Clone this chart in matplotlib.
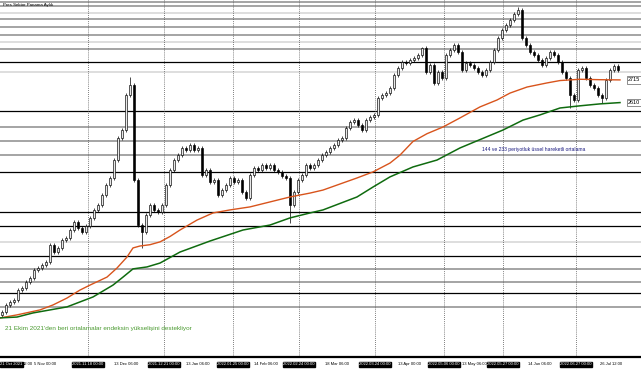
import matplotlib
matplotlib.use('Agg')
from matplotlib import pyplot as plt
from matplotlib import transforms

plt.rcParams['font.family'] = ['Liberation Sans', 'DejaVu Sans']

# closing prices, one candle per bar (open = previous close)
closes = [1640, 1673, 1687, 1696, 1742, 1752, 1779, 1798, 1835, 1844,
          1858, 1872, 1951, 1918, 1937, 1974, 1983, 2020, 2057, 2029,
          2011, 2039, 2076, 2113, 2136, 2182, 2228, 2261, 2344, 2446,
          2483, 2645, 2691, 2252, 2043, 2011, 2090, 2136, 2113, 2103,
          2136, 2228, 2298, 2344, 2367, 2400, 2390, 2414, 2390, 2400,
          2275, 2298, 2242, 2252, 2182, 2205, 2228, 2261, 2242, 2252,
          2196, 2168, 2275, 2307, 2298, 2321, 2307, 2321, 2298, 2289,
          2270, 2261, 2136, 2196, 2252, 2275, 2321, 2307, 2321, 2344,
          2367, 2381, 2400, 2414, 2437, 2446, 2492, 2520, 2529, 2506,
          2483, 2529, 2543, 2553, 2631, 2645, 2654, 2678, 2738, 2770,
          2798, 2793, 2807, 2816, 2830, 2863, 2752, 2784, 2701, 2752,
          2724, 2830, 2853, 2877, 2844, 2761, 2793, 2784, 2770, 2752,
          2738, 2761, 2798, 2853, 2909, 2946, 2969, 2992, 3020, 3039,
          2909, 2877, 2844, 2830, 2807, 2784, 2816, 2844, 2830, 2798,
          2752, 2724, 2645, 2622, 2761, 2770, 2724, 2691, 2678, 2645,
          2631, 2715, 2761, 2779, 2761]
first_open = 1625

# long wicks that stick out (bar index -> price)
spike_high = {32: 2729, 105: 2868, 129: 3052}
spike_low = {0: 1615, 35: 1937, 72: 2051, 142: 2585, 150: 2608}

# 144 and 233 period EMAs (bar index, value)
ema144_x = [-0.5, 3.75, 9.5, 12.75, 16.25, 19.5, 22, 26.25, 28.75, 31.25, 32.75, 34.5,
            37, 39.5, 42, 44.5, 48.75, 52.75, 57, 62, 67, 72, 77, 80.25, 88.75, 92.75, 97,
            99.5, 102.75, 106.25, 110.25, 114.5, 119.5, 123.75, 127, 131.25, 136.25,
            139.5, 144.5, 149.5, 154.5]
ema144_y = [1613, 1627, 1650, 1673, 1705, 1742, 1765, 1802, 1844, 1895, 1937, 1946,
            1952, 1965, 1990, 2020, 2066, 2099, 2113, 2127, 2150, 2173, 2191, 2205, 2261, 2289, 2330,
            2367, 2430, 2466, 2497, 2539, 2590, 2622, 2654, 2682, 2701,
            2712, 2718, 2716, 2715]
ema233_x = [-0.5, 3.75, 7.75, 16.25, 22.75, 27.75, 30.25, 32.75, 36.25, 39.5, 44.5,
            52, 60.25, 67, 72, 77, 80.25, 88.75, 92.75, 97, 102.75, 108.75, 114.5,
            125.25, 130.25, 134.5, 139.5, 144.5, 149.5, 154.5]
ema233_y = [1613, 1617, 1636, 1664, 1710, 1765, 1802, 1840, 1849, 1867, 1918,
            1969, 2020, 2043, 2076, 2099, 2113, 2173, 2219, 2266, 2312, 2344, 2400,
            2483, 2529, 2553, 2585, 2595, 2604, 2610]

# horizontal support / resistance lines
levels_black = [2800, 2573, 2287, 2104, 2037, 1898, 1729]
levels_gray = [3077, 3058, 2996, 2960, 2923, 2859, 2497, 2434, 2368, 1840, 1780, 1664]
levels_light = [3027, 2892, 2753, 1965]

# dotted vertical lines (bar index) and their time labels
vline_x = [21.5, 40.5, 57.75, 74.25, 93.25, 110.5, 125.25, 143.5]
vline_text = ['2021.11.18 00:00', '2021.12.21 00:00', '2022.01.25 00:00', '2022.02.24 00:00',
              '2022.03.24 00:00', '2022.05.06 00:00', '2022.05.27 00:00', '2022.06.27 00:00']

tick_x = [6.4, 10.8, 31, 49, 66, 83.75, 102, 118, 134.5, 152.3]
tick_text = ['12:00', '5 Nov 00:00', '13 Dec 06:00', '13 Jan 06:00', '14 Feb 06:00',
             '18 Mar 06:00', '13 Apr 00:00', '13 May 06:00', '14 Jun 06:00', '26 Jul 12:00']


fig = plt.figure(figsize=(6.41, 3.8), dpi=100)
ax = fig.add_axes([0, 23 / 380, 1, 357 / 380])
ax.set_xlim(-0.5, 159.75)
ax.set_ylim(1432, 3085)

for lv in levels_light:
    ax.axhline(lv, color='#d4d4d4', lw=1.1, zorder=1)
for lv in levels_gray:
    ax.axhline(lv, color='#8c8c8c', lw=1.1, zorder=1)
for lv in levels_black:
    ax.axhline(lv, color='black', lw=0.9, zorder=1)

for vx in vline_x:
    ax.axvline(vx, color='#555555', lw=0.6, ls=(0, (1, 1.5)), zorder=1)

# candles
wick = 9
prev = first_open
for i, c in enumerate(closes):
    o = prev
    hi = spike_high.get(i, max(o, c) + wick)
    lo = spike_low.get(i, min(o, c) - wick)
    ax.vlines(i, lo, hi, color='black', lw=0.5, zorder=3)
    body = max(abs(c - o), 3)
    face = '#e8e8e8' if c >= o else 'black'
    ax.bar(i, body, bottom=min(o, c), width=0.42, color=face,
           edgecolor='black', linewidth=0.45, zorder=4)
    prev = c

ax.plot(ema144_x, ema144_y, color='#d8541c', lw=1.0, zorder=5)
ax.plot(ema233_x, ema233_y, color='#0f6b0f', lw=1.1, zorder=5)

# price tags at right edge
for val, yv in [('2715', 2715), ('2610', 2610)]:
    ax.text(156.5, yv, val, fontsize=4, va='center', ha='left', zorder=6,
            bbox=dict(boxstyle='square,pad=0.25', fc='white', ec='#606060', lw=0.5))

ax.text(0.3, 3062, 'Pres Sektor Panama Aylık', fontsize=3.2, va='center', ha='left', zorder=6)
ax.text(120, 2395, '144 ve 233 periyotluk üssel hareketli ortalama', fontsize=3.6,
        color='#1a1a80', va='center', ha='left', zorder=6)
ax.text(0.8, 1566, "21 Ekim 2021'den beri ortalamalar endeksin yükselişini destekliyor",
        fontsize=4.6, color='#4a9a30', va='center', ha='left', zorder=6)

# time axis
for s in ['left', 'top', 'right']:
    ax.spines[s].set_visible(False)
ax.spines['bottom'].set_linewidth(1.6)
ax.set_xticks([])
ax.set_yticks([])

trans = transforms.blended_transform_factory(ax.transData, ax.transAxes)
for tx, tt in zip(tick_x, tick_text):
    ax.text(tx, -0.02, tt, fontsize=3.0, ha='center', va='center', transform=trans,
            clip_on=False, zorder=2)
ax.text(-0.4, -0.02, '21 Oct 2021', fontsize=3.0, ha='left', va='center', color='white',
        transform=trans, clip_on=False, zorder=7,
        bbox=dict(boxstyle='square,pad=0.15', fc='black', ec='black'))
for vx, vt in zip(vline_x, vline_text):
    ax.text(vx, -0.02, vt, fontsize=3.0, ha='center', va='center', color='white',
            transform=trans, clip_on=False, zorder=7,
            bbox=dict(boxstyle='square,pad=0.15', fc='black', ec='black'))

plt.savefig('out.png', dpi=100)
